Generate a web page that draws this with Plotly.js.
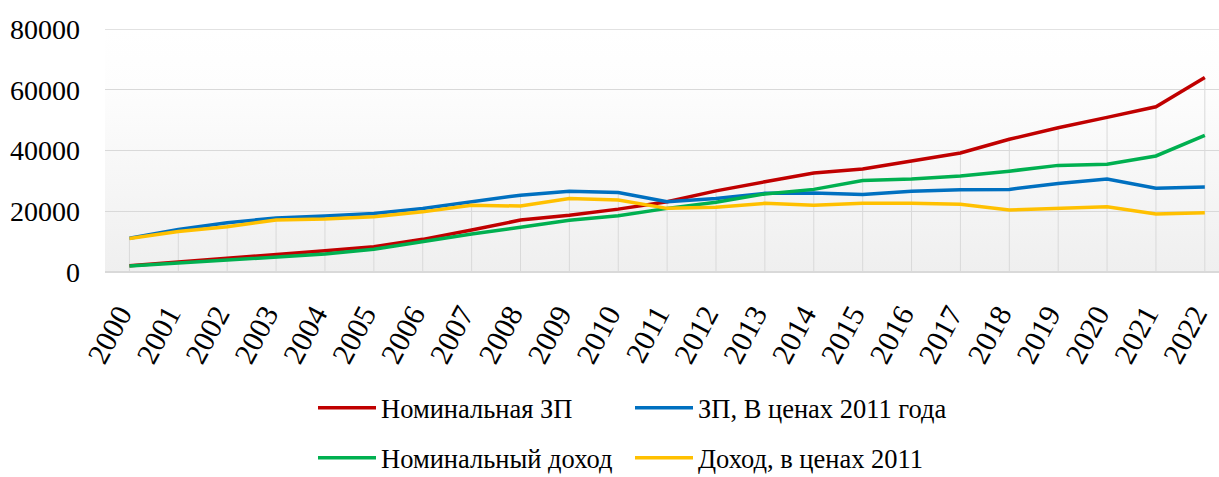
<!DOCTYPE html>
<html>
<head>
<meta charset="utf-8">
<script src="https://cdn.plot.ly/plotly-3.0.1.min.js"></script>
<style>html,body{margin:0;padding:0;background:#fff;}#chart{width:1219px;height:477px;}</style>
</head>
<body>
<div id="chart"></div>
<script>
var years = ["2000","2001","2002","2003","2004","2005","2006","2007","2008","2009","2010","2011","2012","2013","2014","2015","2016","2017","2018","2019","2020","2021","2022"];
var nominalWage = [2050,3250,4450,5800,7000,8350,10750,13800,17100,18700,20700,23150,26700,29700,32600,33900,36600,39200,43700,47500,50900,54400,64000];
var realWage = [11100,14000,16200,17800,18400,19300,20900,23150,25300,26600,26200,23150,24200,25900,26000,25500,26600,27100,27200,29100,30600,27600,28000];
var nominalIncome = [2000,2980,3700,4800,5900,7500,10000,12500,14700,17000,18500,20950,22950,25700,27200,30100,30600,31600,33200,35100,35500,38200,45000];
var realIncome = [11000,13300,14900,17100,17450,18200,19800,22000,21700,24200,23700,20950,21300,22600,22000,22600,22600,22300,20400,20900,21500,19100,19500];
var seriesNames = ["Номинальная ЗП","ЗП, В ценах 2011 года","Номинальный доход","Доход, в ценах 2011"];
var yTicks = [0,20000,40000,60000,80000];

// drop lines: from 0 to the highest series value at each year
var dropX = [], dropY = [];
years.forEach(function(yr, i){
  var m = Math.max(nominalWage[i], realWage[i], nominalIncome[i], realIncome[i]);
  dropX.push(yr, yr, null);
  dropY.push(0, m, null);
});

var font = "Liberation Serif, Times New Roman, serif";
function line(name, y, color, legend){
  return {type:'scatter', mode:'lines', name:name, x:years, y:y,
    line:{color:color, width:3.5}, legend:legend, hoverinfo:'x+y'};
}
var traces = [
  {type:'scatter', mode:'lines', x:dropX, y:dropY, line:{color:'#d9d9d9', width:1}, showlegend:false, hoverinfo:'skip'},
  line(seriesNames[0], nominalWage, '#c00000', 'legend'),
  line(seriesNames[1], realWage, '#0070c0', 'legend2'),
  line(seriesNames[2], nominalIncome, '#00b050', 'legend3'),
  line(seriesNames[3], realIncome, '#ffc000', 'legend4')
];

var grad = 'data:image/svg+xml;utf8,' + encodeURIComponent(
  '<svg xmlns="http://www.w3.org/2000/svg" width="100" height="100" preserveAspectRatio="none">' +
  '<defs><linearGradient id="g" x1="0" y1="0" x2="0" y2="1">' +
  '<stop offset="0" stop-color="#ffffff"/><stop offset="0.25" stop-color="#fdfdfd"/><stop offset="1" stop-color="#efefef"/>' +
  '</linearGradient></defs><rect width="100" height="100" fill="url(#g)"/></svg>');

function leg(x, ytop){
  return {orientation:'h', xref:'container', yref:'container', xanchor:'left', yanchor:'middle',
    x:x/1219, y:(477 - ytop)/477, font:{family:font, size:26.5, color:'#000'}, itemwidth:58,
    bgcolor:'rgba(0,0,0,0)', borderwidth:0, tracegroupgap:0};
}

var layout = {
  width:1219, height:477,
  margin:{l:105, r:0, t:29, b:205, autoexpand:false},
  paper_bgcolor:'#ffffff', plot_bgcolor:'rgba(0,0,0,0)',
  showlegend:true,
  xaxis:{type:'category', range:[-0.5, 22.29], showgrid:false, zeroline:false, showline:false, automargin:false,
    ticks:'', tickangle:-62, ticklabelstandoff:18, ticklabelshift:-10,
    tickfont:{family:font, size:30, color:'#000'}, fixedrange:true},
  yaxis:{range:[0,80000], tickvals:yTicks, ticktext:yTicks.map(String), showgrid:true, gridcolor:'#d9d9d9', gridwidth:1.3,
    zeroline:true, zerolinecolor:'#d9d9d9', zerolinewidth:1.3, showline:false, ticks:'', ticklabelstandoff:24, automargin:false,
    tickfont:{family:font, size:28, color:'#000'}, fixedrange:true},
  legend: leg(313, 408),
  legend2: leg(630, 408),
  legend3: leg(313, 458),
  legend4: leg(630, 458),
  shapes:[{type:'line', xref:'paper', yref:'y', x0:0, x1:1, y0:80000, y1:80000, line:{color:'#d9d9d9', width:1.3}, layer:'below'}],
  images:[{source:grad, xref:'paper', yref:'paper', x:0, y:1, sizex:1, sizey:1, sizing:'stretch', layer:'below', xanchor:'left', yanchor:'top'}]
};

Plotly.newPlot('chart', traces, layout, {displayModeBar:false, staticPlot:true});
</script>
</body>
</html>
